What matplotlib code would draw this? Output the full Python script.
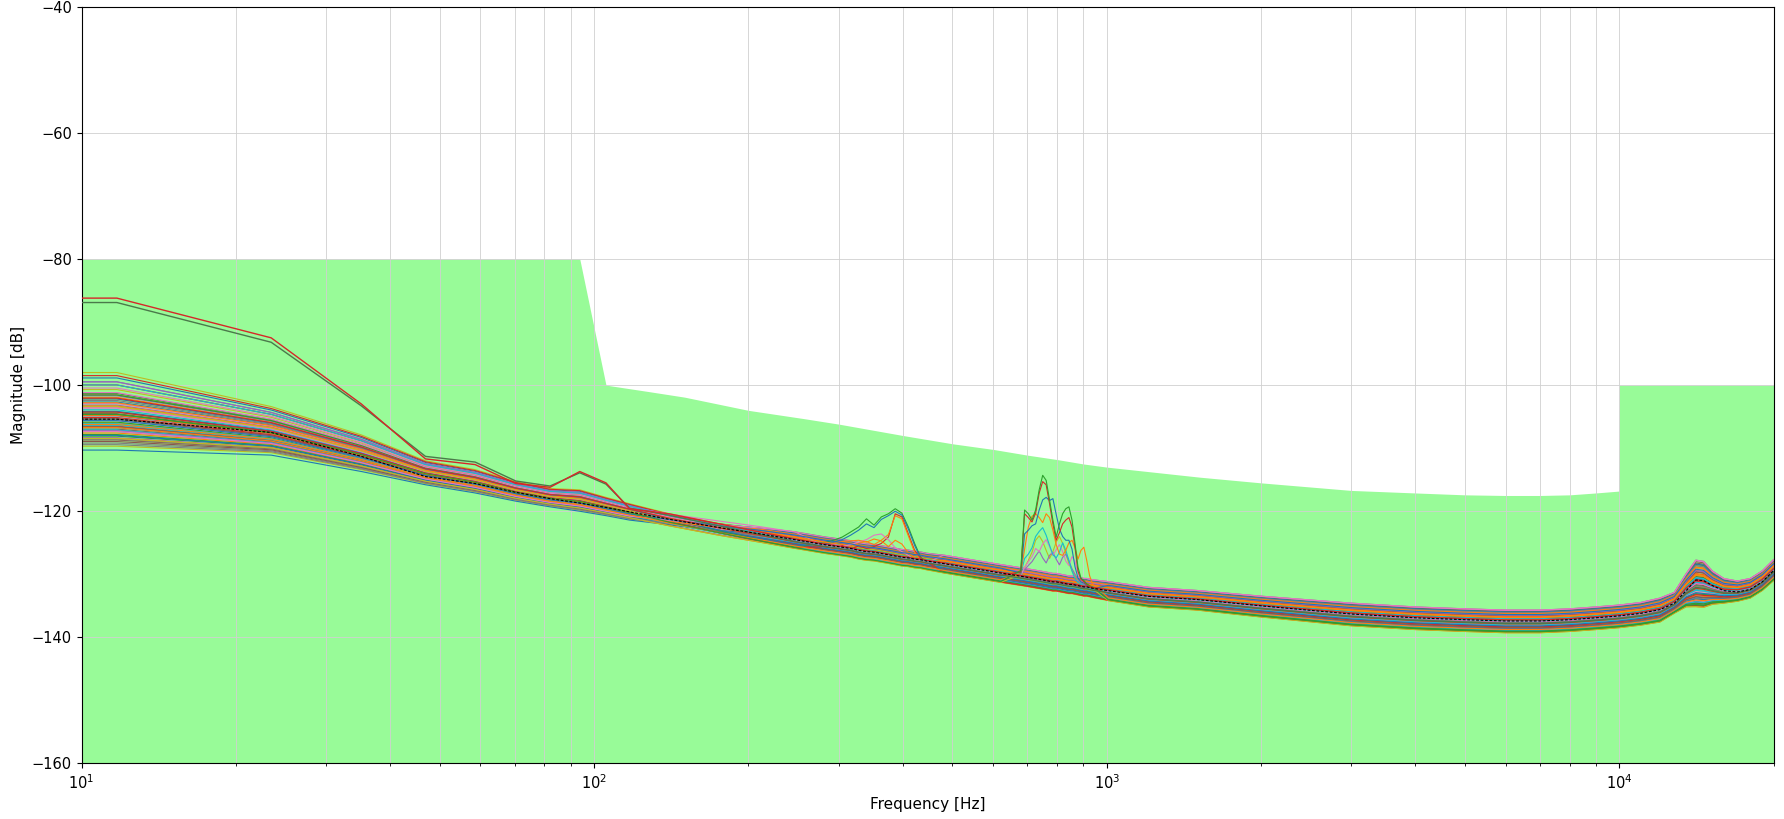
import numpy as np
import matplotlib
matplotlib.use("Agg")
import matplotlib.pyplot as plt

# ---------------- data ----------------
freq_hz = [8.0, 11.72, 23.44, 35.16, 46.88, 58.59, 70.31, 82.03, 93.75, 105.47, 117.19,
           140.63, 175.78, 210.94, 246.09, 281.25, 292.97, 304.69, 316.41, 328.13, 339.84,
           351.56, 363.28, 375.0, 386.72, 398.44, 410.16, 421.88, 433.59, 445.31,
           480.47, 550.78, 621.09, 679.69, 691.41, 703.13, 714.84, 726.56, 738.28, 750.0,
           761.72, 773.44, 785.16, 796.88, 808.59, 820.31, 832.03, 843.75, 855.47, 867.19,
           878.91, 890.63, 902.34, 914.06, 925.78, 937.5, 1007.8, 1207.0, 1500.0, 2000.0,
           3000.0, 4000.0, 5000.0, 6000.0, 7000.0, 8000.0, 9000.0, 10000.0, 11000.0, 12000.0,
           12800.0, 13500.0, 14100.0, 14600.0, 15200.0, 16000.0, 17000.0, 18000.0, 19000.0, 20000.0]

mean_db = [-105.4, -105.4, -107.5, -111.3, -114.5, -115.6, -117.0, -118.0, -118.7, -119.4, -120.1,
           -121.3, -122.6, -123.6, -124.5,
           -125.3, -125.5, -125.7, -125.9, -126.2, -126.4, -126.5, -126.7, -126.9, -127.1,
           -127.3, -127.4, -127.6, -127.7, -127.9,
           -128.3, -129.1, -129.8, -130.3,
           -130.4, -130.5, -130.6, -130.7, -130.8, -130.9, -131.0, -131.1, -131.2, -131.2,
           -131.3, -131.4, -131.5, -131.6, -131.6, -131.7, -131.8, -131.9, -132.0, -132.0,
           -132.1, -132.2,
           -132.6, -133.5, -134.0, -135.0, -136.3, -136.9, -137.2, -137.4, -137.4, -137.2,
           -136.9, -136.6, -136.2, -135.6,
           -134.6, -132.6, -130.9, -131.0, -131.8, -132.6, -132.8, -132.4, -131.2, -129.4]

band_upper_db = [-98.0, -98.0, -103.4, -107.9, -112.0, -113.4, -115.3, -116.4, -116.6, -117.8, -118.8,
                 -120.1,
                 -121.3, -122.3, -123.2, -124.0, -124.2, -124.4, -124.6, -124.9, -125.1, -125.2,
                 -125.4, -125.6, -125.8, -126.0, -126.1, -126.3, -126.4, -126.6,
                 -126.9, -127.7, -128.4, -128.9, -129.0, -129.1, -129.2, -129.3, -129.4, -129.5,
                 -129.6, -129.7, -129.8, -129.8, -129.9, -130.0, -130.1, -130.2, -130.2, -130.3,
                 -130.4, -130.5, -130.6, -130.6, -130.7, -130.8,
                 -131.1, -132.0, -132.5, -133.4, -134.5, -135.1, -135.4, -135.6, -135.6, -135.4,
                 -135.1, -134.8, -134.4, -133.7,
                 -132.8, -129.8, -127.6, -127.8, -129.4, -130.6, -131.0, -130.6, -129.4, -127.6]

band_lower_db = [-110.3, -110.3, -111.1, -113.7, -115.8, -117.1, -118.4, -119.3, -120.0, -120.7, -121.4,
                 -122.6,
                 -124.0, -125.0, -125.9, -126.7, -126.9, -127.1, -127.3, -127.6, -127.8, -127.9,
                 -128.1, -128.3, -128.5, -128.7, -128.8, -129.0, -129.1, -129.3,
                 -129.8, -130.6, -131.3, -131.8, -131.9, -132.0, -132.1, -132.2, -132.3, -132.4,
                 -132.5, -132.6, -132.7, -132.7, -132.8, -132.9, -133.0, -133.1, -133.1, -133.2,
                 -133.3, -133.4, -133.5, -133.5, -133.6, -133.7,
                 -134.2, -135.2, -135.7, -136.8, -138.2, -138.8, -139.1, -139.3, -139.3, -139.1,
                 -138.8, -138.5, -138.1, -137.6,
                 -136.2, -135.2, -135.2, -135.3, -134.8, -134.6, -134.3, -133.8, -132.6, -131.0]

# how far each frequency is from the low-frequency ordering of the curves (0) to the high one (1)
mix_weight = [0, 0, 0, 0, 0, 0, 0, 0, 0, 0, 0, 0.3, 0.6, 0.85] + [1.0] * 66

# position of each measured curve inside the band (0 = lower edge, 1 = upper edge)
pos_low = [0.62, 0.35, 0.18, 0.71, 0.44, 0.27, 0.55, 0.09, 0.66, 0.39, 0.93, 0.22, 0.49, 0.31, 0.58,
           0.13, 0.74, 0.41, 0.05, 0.52, 0.29, 0.68, 0.36, 0.84, 0.16, 0.47, 0.60, 0.24, 0.78, 0.33,
           0.00, 0.57, 0.20, 0.45, 0.70, 0.11, 0.38, 0.64, 1.00, 0.26, 0.50, 0.15, 0.73, 0.42, 0.88,
           0.30, 0.54, 0.07, 0.67, 0.34, 0.19, 0.61, 0.46, 0.96, 0.25, 0.40, 0.80, 0.14, 0.56, 0.32]
pos_high = [0.21, 0.77, 0.45, 0.08, 0.63, 0.92, 0.34, 0.55, 0.17, 0.86, 0.41, 0.70, 0.03, 0.58, 0.27,
            0.95, 0.49, 0.12, 0.81, 0.37, 0.66, 0.24, 0.89, 0.52, 0.06, 0.74, 0.31, 0.98, 0.43, 0.15,
            0.60, 0.84, 0.28, 0.69, 0.10, 0.47, 0.79, 0.19, 0.56, 0.35, 0.90, 0.01, 0.64, 0.26, 0.50,
            0.73, 0.14, 0.87, 0.39, 0.61, 0.30, 0.83, 0.05, 0.54, 0.76, 0.22, 0.97, 0.44, 0.67, 0.11]

# two outlier curves at low frequency (first 11 frequencies)
top_red_db = [-86.2, -86.2, -92.5, -103.0, -111.7, -112.6, -115.6, -116.2, -113.7, -115.5, -119.6]
top_green_db = [-86.9, -86.9, -93.2, -103.3, -111.3, -112.2, -115.2, -116.0, -113.9, -115.7, -119.5]

# resonance cluster around 380 Hz
peak380_freq = [281.25, 292.97, 304.69, 316.41, 328.13, 339.84, 351.56, 363.28, 375.0, 386.72,
                398.44, 410.16, 421.88, 433.59, 445.31]
peak380_green = [-125.0, -124.6, -124.1, -123.3, -122.5, -121.2, -122.2, -120.9, -120.4, -119.6,
                 -120.3, -122.5, -125.1, -127.3, -128.0]
peak380_blue = [-125.2, -124.9, -124.5, -123.8, -123.0, -122.0, -122.6, -121.3, -120.7, -120.0,
                -120.6, -122.8, -125.4, -127.5, -128.1]
peak380_red = [-125.6, -125.8, -125.4, -126.0, -125.5, -125.9, -125.6, -125.1, -124.1, -120.4,
               -120.9, -123.6, -126.2, -127.5, -128.0]
peak380_orange = [-125.3, -125.9, -125.2, -125.6, -125.0, -124.8, -125.3, -124.6, -123.7, -120.7,
                  -121.2, -123.9, -126.5, -127.8, -128.1]
peak380_pink = [-125.5, -125.2, -125.6, -125.3, -124.9, -124.5, -123.8, -123.6, -124.5, -125.8,
                -126.4, -127.0, -127.8, -128.0, -128.2]
peak380_amber = [-124.9, -125.1, -124.8, -124.7, -124.6, -124.9, -124.4, -124.7, -125.6, -124.6,
                 -125.2, -126.6, -127.4, -127.9, -128.3]

# resonance cluster around 750 Hz
peak750_freq = [679.69, 691.41, 703.13, 714.84, 726.56, 738.28, 750.0, 761.72, 773.44, 785.16,
                796.88, 808.59, 820.31, 832.03, 843.75, 855.47, 867.19, 878.91, 890.63, 902.34,
                914.06, 925.78, 937.5]
peak750_green = [-129.4, -119.8, -120.4, -121.4, -119.8, -116.6, -114.3, -115.1, -118.2, -121.4,
                 -124.1, -122.0, -120.4, -119.6, -119.3, -121.4, -125.1, -128.9, -130.6, -131.0,
                 -131.5, -131.8, -132.0]
peak750_red = [-129.6, -120.4, -121.0, -121.7, -120.3, -117.1, -115.3, -115.8, -118.8, -122.0,
               -124.6, -123.4, -122.0, -121.4, -121.0, -122.5, -125.8, -129.5, -130.8, -131.2,
               -131.6, -132.0, -132.2]
peak750_blue = [-129.8, -123.6, -123.0, -122.3, -122.0, -119.8, -118.2, -117.8, -118.3, -118.0,
                -120.5, -122.8, -124.0, -124.6, -124.6, -126.0, -128.8, -130.6, -131.2, -131.4,
                -131.7, -132.0, -132.3]
peak750_orange = [-129.9, -126.0, -122.5, -120.8, -120.4, -121.0, -121.8, -120.4, -121.0, -123.0,
                  -125.3, -126.8, -127.0, -126.2, -125.0, -124.6, -125.8, -127.6, -126.2, -125.7,
                  -127.8, -130.2, -131.5]
peak750_cyan = [-130.0, -127.5, -126.8, -125.8, -124.0, -123.2, -122.6, -123.8, -125.4, -126.9,
                -127.4, -126.5, -125.0, -126.2, -127.8, -129.5, -130.7, -131.3, -131.5, -131.8,
                -132.0, -132.2, -132.4]
peak750_pink = [-130.2, -128.9, -128.0, -127.2, -125.9, -126.4, -125.2, -124.5, -125.6, -127.0,
                -126.1, -125.3, -126.4, -127.9, -128.6, -127.2, -127.9, -129.8, -130.9, -131.4,
                -131.6, -131.9, -132.2]
peak750_olive = [-130.1, -129.0, -127.8, -126.5, -124.6, -123.9, -124.8, -126.2, -127.5, -126.4,
                 -124.9, -124.0, -125.1, -126.7, -128.3, -129.4, -130.3, -130.9, -131.3, -131.7,
                 -131.9, -132.2, -132.3]
peak750_purple = [-130.1, -129.3, -128.6, -128.0, -127.1, -126.3, -127.4, -128.2, -127.0, -126.5,
                  -127.6, -128.5, -127.3, -126.8, -127.9, -129.1, -130.0, -130.8, -131.3, -131.6,
                  -131.9, -132.1, -132.3]

# allowed region (green mask)
mask_freq = [8.0, 93.75, 105.47, 128.4, 150.0, 200.0, 256.0, 301.0, 401.0, 500.0, 601.0, 700.0,
             800.0, 900.0, 1000.0, 1233.0, 1520.0, 2000.0, 3000.0, 4000.0, 5000.0, 6000.0, 7000.0,
             8000.0, 9000.0, 9990.0, 10000.0, 21000.0]
mask_db = [-80.0, -80.0, -100.0, -101.05, -101.9, -104.0, -105.3, -106.2, -108.0, -109.3, -110.2,
           -111.1, -111.8, -112.5, -113.0, -113.8, -114.6, -115.5, -116.7, -117.1, -117.4, -117.5,
           -117.5, -117.4, -117.1, -116.8, -100.0, -100.0]

# ---------------- build curves ----------------
F = np.array(freq_hz)
M = np.array(mean_db)
U = np.array(band_upper_db)
L = np.array(band_lower_db)
W = np.array(mix_weight)

band_curves = []
for a, b in zip(pos_low, pos_high):
    t = a * (1 - W) + b * W
    band_curves.append(L + t * (U - L))


def idx_of(freqs):
    return [int(np.argmin(np.abs(F - f))) for f in freqs]


i380 = idx_of(peak380_freq)
i750 = idx_of(peak750_freq)

special = []  # (values, color)
for vals, base, col in [(peak380_green, 3, 'tab:green'), (peak380_blue, 8, 'tab:blue'),
                        (peak380_red, 12, 'tab:red'), (peak380_orange, 20, 'tab:orange'),
                        (peak380_pink, 27, 'tab:pink'), (peak380_amber, 33, 'tab:orange')]:
    y = band_curves[base].copy()
    y[i380] = vals
    special.append((y, col))
for vals, base, col in [(peak750_olive, 41, 'tab:olive'), (peak750_purple, 44, 'tab:purple'),
                        (peak750_pink, 16, 'tab:pink'), (peak750_cyan, 23, 'tab:cyan'),
                        (peak750_orange, 29, 'tab:orange'), (peak750_blue, 36, 'tab:blue'),
                        (peak750_red, 48, 'tab:red'), (peak750_green, 52, 'tab:green')]:
    y = band_curves[base].copy()
    y[i750] = vals
    special.append((y, col))

top_green = band_curves[10].copy()
top_green[:len(top_green_db)] = top_green_db
top_red = band_curves[38].copy()
top_red[:len(top_red_db)] = top_red_db

# ---------------- plot ----------------
fig = plt.figure(figsize=(17.84, 8.19), dpi=100)
ax = fig.add_axes([0.0457, 0.0678, 0.9485, 0.9239])

ax.fill_between(mask_freq, mask_db, -200, color='palegreen', lw=0, zorder=1)

for y in band_curves:
    ax.plot(F, y, lw=0.8, zorder=2)
for y, col in special:
    ax.plot(F, y, lw=0.8, color=col, zorder=2.5)
ax.plot(F, top_green, lw=1.0, color='#4a7a4a', zorder=2.6)
ax.plot(F, top_red, lw=1.0, color='tab:red', zorder=2.7)
ax.plot(F, M, color='black', lw=0.8, ls=(0, (2.5, 1.5)), zorder=3)

ax.set_xscale('log')
ax.set_xlim(10, 20000)
ax.set_ylim(-160, -40)
ax.set_yticks([-160, -140, -120, -100, -80, -60, -40])
ax.grid(which='both', axis='x', color='#d0d0d0', lw=0.6)
ax.grid(which='major', axis='y', color='#d0d0d0', lw=0.6)
ax.tick_params(labelsize=10.5)
ax.set_xlabel('Frequency [Hz]', fontsize=11)
ax.set_ylabel('Magnitude [dB]', fontsize=11)

fig.savefig('out.png', dpi=100)
